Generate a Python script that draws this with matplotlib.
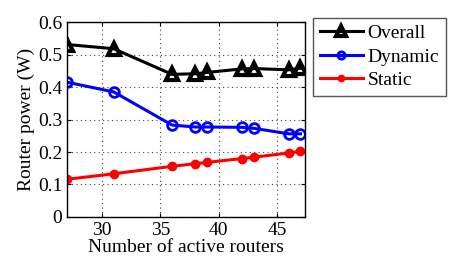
import matplotlib
matplotlib.use("Agg")
import matplotlib.pyplot as plt

routers = [27, 31, 36, 38, 39, 42, 43, 46, 47]
overall = [0.531, 0.518, 0.439, 0.441, 0.445, 0.456, 0.457, 0.453, 0.458]
dynamic = [0.415, 0.385, 0.283, 0.277, 0.277, 0.276, 0.273, 0.256, 0.256]
static = [0.116, 0.133, 0.156, 0.164, 0.168, 0.180, 0.184, 0.197, 0.202]
xticks = [30, 35, 40, 45]
yticks = [0, 0.1, 0.2, 0.3, 0.4, 0.5, 0.6]
ytick_labels = ["0", "0.1", "0.2", "0.3", "0.4", "0.5", "0.6"]

plt.rcParams['font.family'] = ['Liberation Serif', 'DejaVu Serif']
fig = plt.figure(figsize=(4.51, 2.63), dpi=100)
ax = fig.add_axes([0.1486, 0.175, 0.528, 0.741])

ax.plot(routers, overall, color='black', lw=2.2, marker='^', ms=9,
        mfc='none', mec='black', mew=3, label='Overall')
ax.plot(routers, dynamic, color='blue', lw=2.2, marker='o', ms=7,
        mfc='none', mec='blue', mew=2, label='Dynamic')
ax.plot(routers, static, color='red', lw=2.2, marker='o', ms=6,
        mfc='red', mec='red', label='Static')

ax.set_xlim(27, 47.4)
ax.set_ylim(0, 0.6)
ax.set_xticks(xticks)
ax.set_yticks(yticks)
ax.set_yticklabels(ytick_labels)
ax.tick_params(direction='in', labelsize=14, length=3, top=True, right=True)
for s in ax.spines.values():
    s.set_linewidth(1.0)
ax.grid(True, linestyle=(0, (1, 3)), color='#444444', lw=0.8)
ax.set_xlabel('Number of active routers', fontsize=14, labelpad=0)
ax.set_ylabel('Router power (W)', fontsize=14, labelpad=2)

leg = fig.legend(loc='upper left', bbox_to_anchor=(0.694, 0.932), fontsize=14,
                 frameon=True, fancybox=False, edgecolor='#555555', framealpha=1,
                 handlelength=2.2, handletextpad=0.25, borderpad=0.35,
                 labelspacing=0.3, borderaxespad=0, markerscale=0.75)
leg.get_frame().set_linewidth(1.0)

fig.savefig('out.png', dpi=100)
